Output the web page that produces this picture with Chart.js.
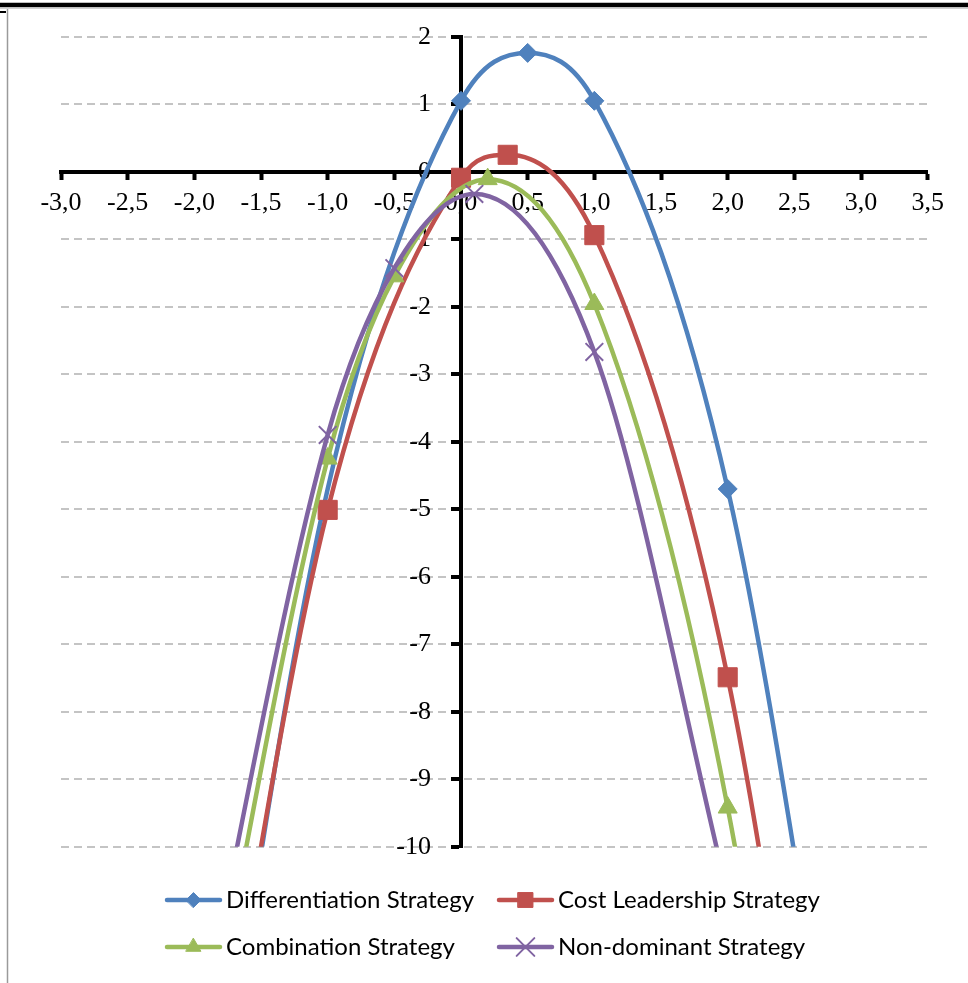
<!DOCTYPE html>
<html>
<head>
<meta charset="utf-8">
<script src="https://cdn.jsdelivr.net/npm/chart.js@4.4.1/dist/chart.umd.min.js"></script>
<style>
  html, body { margin: 0; padding: 0; background: #ffffff; }
  #wrap { position: relative; width: 968px; height: 983px; }
  canvas { display: block; }
</style>
</head>
<body>
<div id="wrap"><canvas id="chart" width="968" height="983"></canvas></div>
<script>
// Strategy curves: each series is a set of (x, y) points joined by a smooth line.
const seriesNames = [
  'Differentiation Strategy',
  'Cost Leadership Strategy',
  'Combination Strategy',
  'Non-dominant Strategy'
];

const diffX = [-2, -1, 0, 0.5, 1, 2, 3];
const diffY = [-16.2, -4.7, 1.05, 1.76, 1.05, -4.7, -16.2];

const costX = [-2, -1, 0, 0.35, 1, 2, 3];
const costY = [-15.7, -5.01, -0.09, 0.25, -0.94, -7.49, -20.0];

const combX = [-2, -1, -0.5, 0.2, 1, 2, 3];
const combY = [-14.0, -4.25, -1.55, -0.11, -1.96, -9.42, -22.5];

const nonX = [-2, -1, -0.5, 0.1, 1, 2];
const nonY = [-13.1, -3.9, -1.43, -0.33, -2.67, -10.7];

// Axis ranges and tick steps
const xRange = [-3, 3.5];
const xStep = 0.5;
const yRange = [-10, 2];
const yStep = 1;

const toPoints = (xs, ys) => xs.map((x, i) => ({ x: x, y: ys[i] }));

const COLORS = ['#4F81BD', '#C0504D', '#9BBB59', '#8064A2'];
const TICK_FONT = { family: "'Liberation Serif', 'Times New Roman', serif", size: 26 };
const LEGEND_FONT = "24px Lato, 'Open Sans', sans-serif";

function lineSeries(idx, xs, ys, style, radius, borderW, order) {
  return {
    label: seriesNames[idx],
    data: toPoints(xs, ys),
    showLine: true,
    borderColor: COLORS[idx],
    backgroundColor: COLORS[idx],
    borderWidth: 4.5,
    borderJoinStyle: 'round',
    cubicInterpolationMode: 'monotone',
    capBezierPoints: false,
    pointStyle: style,
    pointRadius: radius,
    pointHoverRadius: radius,
    pointBorderWidth: borderW,
    pointBackgroundColor: COLORS[idx],
    pointBorderColor: COLORS[idx],
    order: order
  };
}

const datasets = [
  // the anchor at x = -1 only shapes the left arm; it carries no marker
  lineSeries(0, diffX, diffY, 'rectRot', c => (c.raw && c.raw.x === -1 ? 0 : 9.5), 1, 3),
  lineSeries(1, costX, costY, 'rect', 13.5, 1, 2),
  lineSeries(2, combX, combY, 'triangle', 11, 1, 1),
  lineSeries(3, nonX, nonY, 'crossRot', 12.5, 2, 0)
];

// Page frame: heavy rule along the top, thin rule down the left side
const framePlugin = {
  id: 'frame',
  beforeDraw(chart) {
    const ctx = chart.ctx;
    ctx.save();
    ctx.fillStyle = '#ffffff';
    ctx.fillRect(0, 0, chart.width, chart.height);
    ctx.strokeStyle = '#000000';
    ctx.lineWidth = 4.5;
    ctx.beginPath(); ctx.moveTo(0, 5); ctx.lineTo(chart.width, 5); ctx.stroke();
    ctx.strokeStyle = '#d0d0d0';
    ctx.lineWidth = 1;
    ctx.beginPath(); ctx.moveTo(0, 8.5); ctx.lineTo(chart.width, 8.5); ctx.stroke();
    ctx.strokeStyle = '#9a9a9a';
    ctx.lineWidth = 1.5;
    ctx.beginPath(); ctx.moveTo(7.5, 9); ctx.lineTo(7.5, chart.height); ctx.stroke();
    ctx.strokeStyle = '#000000';
    ctx.lineWidth = 2;
    ctx.beginPath(); ctx.moveTo(0, 12); ctx.lineTo(6, 12); ctx.stroke();
    ctx.restore();
  }
};

// Two-column legend below the plot, drawn from the dataset styles
const legendPlugin = {
  id: 'gridLegend',
  afterDraw(chart) {
    const ctx = chart.ctx;
    const cols = [165, 497];
    const rows = [900, 947];
    const sampleLen = 57;
    chart.data.datasets.forEach((ds, i) => {
      const x = cols[i % 2];
      const y = rows[Math.floor(i / 2)];
      ctx.save();
      ctx.strokeStyle = ds.borderColor;
      ctx.lineWidth = 4.5;
      ctx.lineCap = 'round';
      ctx.beginPath();
      ctx.moveTo(x + 2, y);
      ctx.lineTo(x + sampleLen - 2, y);
      ctx.stroke();
      ctx.fillStyle = ds.pointBackgroundColor;
      ctx.strokeStyle = ds.pointBorderColor;
      ctx.lineWidth = ds.pointBorderWidth;
      const r = typeof ds.pointRadius === 'number' ? ds.pointRadius : 9.5;
      Chart.helpers.drawPoint(ctx, {
        pointStyle: ds.pointStyle,
        rotation: 0,
        radius: ds.pointStyle === 'crossRot' ? r : r * 0.78,
        borderWidth: ds.pointBorderWidth
      }, x + sampleLen / 2, y);
      ctx.fillStyle = '#000000';
      ctx.font = LEGEND_FONT;
      ctx.textBaseline = 'middle';
      ctx.textAlign = 'left';
      ctx.fillText(ds.label, x + sampleLen + 4, y);
      ctx.restore();
    });
  }
};

const yTickLabel = v => String(v);

new Chart(document.getElementById('chart'), {
  type: 'scatter',
  data: { datasets: datasets },
  options: {
    responsive: false,
    animation: false,
    devicePixelRatio: 1,
    layout: { padding: { left: 61, right: 40.3, top: 36.7, bottom: 136.3 } },
    plugins: {
      legend: { display: false },
      tooltip: { enabled: false }
    },
    scales: {
      x: {
        type: 'linear',
        min: xRange[0],
        max: xRange[1],
        position: { y: 0 },
        afterFit: s => { s.height = 0; },
        ticks: {
          stepSize: xStep,
          autoSkip: false,
          maxRotation: 0,
          padding: 10,
          color: '#000000',
          font: TICK_FONT,
          callback: v => Number(v).toFixed(1).replace('.', ',')
        },
        grid: {
          drawOnChartArea: false,
          drawTicks: true,
          tickLength: 6,
          tickWidth: 4,
          tickColor: '#000000'
        },
        border: { display: true, color: '#000000', width: 4 }
      },
      // value axis through x = 0: axis line, tick marks and dashed grid
      y: {
        type: 'linear',
        min: yRange[0],
        max: yRange[1],
        position: { x: 0 },
        afterFit: s => { s.width = 0; },
        ticks: { stepSize: yStep, display: false },
        grid: {
          color: c => (c.tick && c.tick.value === 0 ? 'rgba(0,0,0,0)' : '#c4c4c4'),
          lineWidth: 2,
          drawTicks: true,
          tickLength: 8,
          tickWidth: 4,
          tickColor: '#000000',
          tickBorderDash: []
        },
        border: { display: true, color: '#000000', width: 4, dash: [8, 5] }
      },
      // same value range, carrying only the tick labels, set a little left of the axis line
      yLabels: {
        axis: 'y',
        type: 'linear',
        min: yRange[0],
        max: yRange[1],
        position: { x: -0.225 },
        afterFit: s => { s.width = 0; },
        ticks: {
          stepSize: yStep,
          padding: 0,
          color: '#000000',
          font: TICK_FONT,
          callback: yTickLabel
        },
        grid: { display: false },
        border: { display: false }
      }
    }
  },
  plugins: [framePlugin, legendPlugin]
});
</script>
</body>
</html>
